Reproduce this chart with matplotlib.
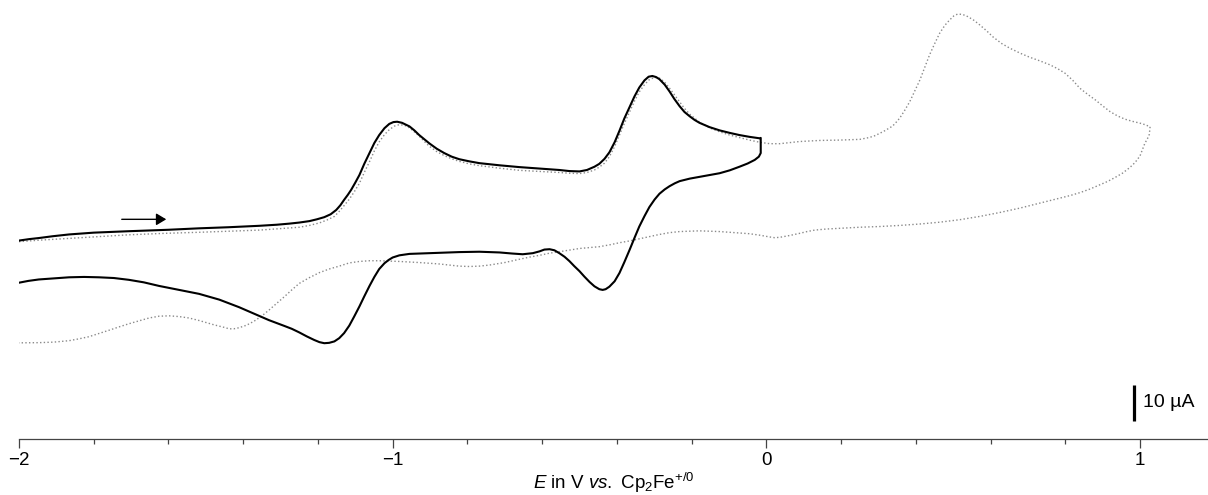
import numpy as np
import matplotlib
matplotlib.use('Agg')
import matplotlib.pyplot as plt

plt.rcParams['font.family'] = ['Liberation Sans', 'DejaVu Sans']
plt.rcParams['mathtext.fontset'] = 'custom'
plt.rcParams['mathtext.rm'] = 'Liberation Sans'
plt.rcParams['mathtext.it'] = 'Liberation Sans:italic'

# (E in V vs Cp2Fe+/0, I in uA)
# solid CV, forward sweep -2 V -> 0 V
solid_fwd = [(-2.00, 16.5), (-1.973, 16.9), (-1.947, 17.2), (-1.91, 17.7), (-1.866, 18.2),
             (-1.80, 18.7), (-1.706, 19.1), (-1.60, 19.5), (-1.518, 19.9), (-1.44, 20.2),
             (-1.357, 20.6), (-1.31, 20.9), (-1.277, 21.2), (-1.250, 21.5), (-1.223, 21.9),
             (-1.203, 22.4), (-1.183, 23.0), (-1.166, 23.8), (-1.151, 25.0), (-1.140, 26.3),
             (-1.130, 27.8), (-1.120, 29.2), (-1.111, 30.6), (-1.100, 32.6), (-1.089, 34.7),
             (-1.076, 37.8), (-1.062, 40.8), (-1.049, 43.6), (-1.036, 45.8), (-1.022, 47.7),
             (-1.009, 48.9), (-0.998, 49.4), (-0.988, 49.5), (-0.975, 49.2), (-0.955, 48.2),
             (-0.942, 47.1), (-0.929, 45.8), (-0.915, 44.6), (-0.902, 43.5), (-0.882, 42.0),
             (-0.862, 40.8), (-0.842, 39.8), (-0.822, 39.1), (-0.795, 38.5), (-0.768, 38.0),
             (-0.714, 37.4), (-0.661, 36.9), (-0.594, 36.4), (-0.554, 36.1), (-0.527, 35.8),
             (-0.500, 35.7), (-0.480, 36.1), (-0.460, 37.0), (-0.447, 37.8), (-0.433, 39.2),
             (-0.420, 41.0), (-0.406, 43.8), (-0.393, 47.0), (-0.380, 50.4), (-0.366, 53.6),
             (-0.353, 56.5), (-0.340, 59.0), (-0.326, 61.0), (-0.315, 62.0), (-0.305, 62.2),
             (-0.295, 61.9), (-0.286, 61.3), (-0.272, 59.8), (-0.259, 57.9), (-0.246, 55.8),
             (-0.232, 53.8), (-0.219, 52.2), (-0.205, 51.0), (-0.192, 50.0), (-0.179, 49.2),
             (-0.152, 48.0), (-0.125, 47.1), (-0.098, 46.4), (-0.072, 45.8), (-0.045, 45.3),
             (-0.018, 44.9), (-0.015, 45.0)]
# solid CV, reverse sweep 0 V -> -2 V
solid_rev = [(-0.015, 40.8), (-0.020, 39.8), (-0.031, 38.9), (-0.050, 37.9), (-0.072, 37.0),
             (-0.098, 36.0), (-0.125, 35.2), (-0.152, 34.7), (-0.179, 34.2), (-0.205, 33.7),
             (-0.232, 33.0), (-0.245, 32.4), (-0.259, 31.6), (-0.272, 30.7), (-0.286, 29.5),
             (-0.299, 27.9), (-0.313, 25.8), (-0.326, 23.3), (-0.340, 20.4), (-0.353, 17.2),
             (-0.366, 13.9), (-0.380, 10.5), (-0.393, 7.5), (-0.406, 5.2), (-0.420, 3.7),
             (-0.430, 3.0), (-0.438, 2.8), (-0.447, 3.0), (-0.460, 3.8), (-0.473, 5.0),
             (-0.487, 6.5), (-0.500, 8.0), (-0.514, 9.4), (-0.527, 10.8), (-0.540, 12.0),
             (-0.554, 13.0), (-0.567, 13.8), (-0.580, 14.1), (-0.594, 14.0), (-0.607, 13.5),
             (-0.625, 13.0), (-0.652, 12.7), (-0.680, 12.9), (-0.714, 13.2), (-0.768, 13.4),
             (-0.822, 13.3), (-0.875, 13.1), (-0.929, 12.9), (-0.955, 12.8), (-0.982, 12.4),
             (-1.000, 11.8), (-1.011, 11.1), (-1.022, 10.2), (-1.036, 8.6), (-1.049, 6.4),
             (-1.062, 3.9), (-1.076, 1.0), (-1.089, -1.8), (-1.103, -4.6), (-1.116, -7.1),
             (-1.130, -9.2), (-1.143, -10.6), (-1.156, -11.5), (-1.170, -11.9), (-1.183, -12.0),
             (-1.196, -11.7), (-1.210, -11.1), (-1.230, -10.1), (-1.250, -9.0), (-1.270, -8.0),
             (-1.290, -7.2), (-1.331, -5.6), (-1.371, -3.8), (-1.411, -2.0), (-1.464, 0.1),
             (-1.518, 1.7), (-1.572, 2.8), (-1.625, 3.9), (-1.666, 4.9), (-1.706, 5.6),
             (-1.746, 6.1), (-1.786, 6.3), (-1.826, 6.4), (-1.866, 6.3), (-1.907, 6.0),
             (-1.947, 5.7), (-1.975, 5.3), (-2.00, 4.8)]

# dotted CV, forward sweep -2 V -> +1.03 V
dot_fwd = [(-2.00, 16.2), (-1.947, 16.6), (-1.866, 17.1), (-1.786, 17.6), (-1.706, 18.1),
           (-1.612, 18.5), (-1.518, 18.8), (-1.438, 19.1), (-1.357, 19.4), (-1.304, 19.8),
           (-1.250, 20.2), (-1.223, 20.7), (-1.196, 21.4), (-1.176, 22.2), (-1.156, 23.2),
           (-1.143, 24.6), (-1.130, 26.2), (-1.116, 28.0), (-1.103, 30.0), (-1.089, 32.4),
           (-1.076, 35.4), (-1.062, 38.4), (-1.049, 41.4), (-1.036, 43.9), (-1.022, 45.9),
           (-1.009, 47.3), (-0.995, 48.3), (-0.982, 48.7), (-0.968, 48.5), (-0.955, 47.8),
           (-0.942, 46.7), (-0.929, 45.5), (-0.915, 44.0), (-0.902, 42.7), (-0.882, 41.2),
           (-0.862, 40.1), (-0.842, 39.2), (-0.822, 38.5), (-0.795, 37.8), (-0.768, 37.3),
           (-0.714, 36.6), (-0.661, 36.0), (-0.607, 35.7), (-0.554, 35.4), (-0.527, 35.2),
           (-0.500, 35.1), (-0.480, 35.4), (-0.460, 36.1), (-0.447, 36.9), (-0.433, 38.0),
           (-0.420, 39.8), (-0.406, 42.6), (-0.393, 45.8), (-0.380, 49.0), (-0.366, 52.2),
           (-0.353, 55.2), (-0.340, 57.8), (-0.326, 59.8), (-0.313, 61.2), (-0.299, 61.8),
           (-0.286, 61.6), (-0.273, 60.6), (-0.259, 58.8), (-0.246, 57.0), (-0.232, 55.0),
           (-0.219, 53.2), (-0.205, 51.6), (-0.179, 49.4), (-0.152, 47.8), (-0.125, 46.7),
           (-0.098, 45.8), (-0.072, 45.1), (-0.045, 44.4), (-0.018, 43.8), (0.009, 43.4),
           (0.036, 43.4), (0.062, 43.7), (0.089, 44.0), (0.143, 44.3), (0.196, 44.4),
           (0.250, 44.6), (0.275, 45.1), (0.290, 45.6), (0.304, 46.3), (0.317, 47.0),
           (0.330, 47.8), (0.338, 48.3), (0.347, 49.3), (0.357, 50.5), (0.370, 52.6),
           (0.384, 55.1), (0.397, 58.0), (0.411, 61.1), (0.424, 64.6), (0.437, 68.1),
           (0.451, 71.3), (0.464, 74.1), (0.478, 76.3), (0.491, 77.8), (0.502, 78.9),
           (0.512, 79.4), (0.525, 79.3), (0.539, 78.7), (0.555, 77.7), (0.571, 76.4),
           (0.590, 74.7), (0.606, 73.1), (0.630, 71.2), (0.652, 69.9), (0.680, 68.5),
           (0.705, 67.4), (0.732, 66.4), (0.759, 65.3), (0.780, 64.2), (0.799, 63.0),
           (0.820, 61.0), (0.839, 58.8), (0.860, 57.1), (0.880, 55.6), (0.900, 53.9),
           (0.920, 52.3), (0.940, 51.1), (0.960, 50.2), (0.980, 49.6), (1.000, 49.1),
           (1.013, 48.7), (1.027, 48.1)]
# dotted CV, reverse sweep +1.03 V -> -2 V
dot_rev = [(1.025, 46.0), (1.020, 44.8), (1.013, 43.5), (1.000, 40.0), (0.987, 38.2),
           (0.973, 36.8), (0.953, 35.2), (0.933, 34.0), (0.913, 32.9), (0.893, 32.0),
           (0.866, 30.8), (0.839, 29.8), (0.813, 29.0), (0.786, 28.3), (0.732, 26.9),
           (0.678, 25.5), (0.625, 24.3), (0.571, 23.2), (0.518, 22.3), (0.464, 21.6),
           (0.411, 21.1), (0.357, 20.7), (0.303, 20.4), (0.250, 20.2), (0.196, 19.9),
           (0.160, 19.7), (0.129, 19.4), (0.109, 19.0), (0.089, 18.5), (0.062, 17.9),
           (0.036, 17.4), (0.022, 17.3), (0.009, 17.5), (-0.018, 18.0), (-0.045, 18.4),
           (-0.072, 18.6), (-0.125, 19.0), (-0.179, 19.2), (-0.232, 19.0), (-0.259, 18.7),
           (-0.286, 18.2), (-0.313, 17.6), (-0.340, 17.0), (-0.366, 16.4), (-0.393, 15.9),
           (-0.420, 15.3), (-0.447, 14.8), (-0.500, 14.3), (-0.554, 13.4), (-0.580, 13.0),
           (-0.607, 12.4), (-0.634, 11.9), (-0.661, 11.3), (-0.700, 10.4), (-0.741, 9.7),
           (-0.768, 9.4), (-0.795, 9.3), (-0.822, 9.4), (-0.848, 9.7), (-0.875, 10.0),
           (-0.929, 10.4), (-0.982, 10.7), (-1.036, 10.9), (-1.062, 10.9), (-1.089, 10.7),
           (-1.116, 10.3), (-1.143, 9.4), (-1.170, 8.6), (-1.196, 7.6), (-1.223, 6.2),
           (-1.250, 4.6), (-1.270, 2.8), (-1.290, 0.9), (-1.310, -0.9), (-1.331, -2.8),
           (-1.351, -4.5), (-1.371, -5.9), (-1.391, -7.0), (-1.411, -7.7), (-1.425, -8.0),
           (-1.438, -8.0), (-1.451, -7.6), (-1.478, -6.9), (-1.518, -5.7), (-1.545, -5.0),
           (-1.572, -4.6), (-1.598, -4.4), (-1.625, -4.5), (-1.652, -5.0), (-1.679, -5.8),
           (-1.706, -6.6), (-1.733, -7.5), (-1.759, -8.4), (-1.786, -9.3), (-1.813, -10.2),
           (-1.840, -10.8), (-1.866, -11.3), (-1.907, -11.7), (-1.947, -11.85), (-2.00, -11.9)]

major_ticks = [-2, -1, 0, 1]
major_labels = ['\u22122', '\u22121', '0', '1']
minor_ticks = [-1.8, -1.6, -1.4, -1.2, -0.8, -0.6, -0.4, -0.2, 0.2, 0.4, 0.6, 0.8]
scale_bar = 10  # uA

solid = np.array(solid_fwd + solid_rev)
dotted = np.array(dot_fwd + dot_rev)

fig = plt.figure(figsize=(12.08, 4.95), dpi=100)
ax = fig.add_axes([19/1208, 56/495, 1189/1208, 439/495])

ax.plot(dotted[:, 0], dotted[:, 1], color='#8a8a8a', lw=1.0, ls=':')
ax.plot(solid[:, 0], solid[:, 1], color='black', lw=1.5)

# sweep direction arrow
ax.annotate('', xy=(-1.606, 22.4), xytext=(-1.725, 22.4),
            arrowprops=dict(arrowstyle='-|>,head_length=0.5,head_width=0.3',
                            mutation_scale=12, lw=1.0, color='black',
                            shrinkA=0, shrinkB=0))

# 10 uA scale bar
ax.plot([0.984, 0.984], [-33.6, -33.6 + scale_bar], color='black', lw=2.3,
        solid_capstyle='butt')
ax.text(1.008, -28.6, '10 µA', fontsize=14, va='center', ha='left')

ax.set_xlim(-2.0, 1.182)
ax.set_ylim(-38.6, 83.3)
for s in ['left', 'right', 'top']:
    ax.spines[s].set_visible(False)
ax.spines['bottom'].set_color('#444444')
ax.spines['bottom'].set_linewidth(0.9)
ax.set_yticks([])
ax.set_xticks(major_ticks)
ax.set_xticklabels(major_labels)
ax.set_xticks(minor_ticks, minor=True)
ax.tick_params(axis='x', which='major', length=6.5, width=0.9, color='#444444',
               labelsize=13.5, pad=3)
ax.tick_params(axis='x', which='minor', length=3.6, width=0.9, color='#444444')
ax.set_xlabel(r'$E\ \mathrm{in\ V}\ vs.\ \mathrm{Cp_2Fe^{+/0}}$', fontsize=13.5, labelpad=1)

fig.savefig('out.png', dpi=100)
